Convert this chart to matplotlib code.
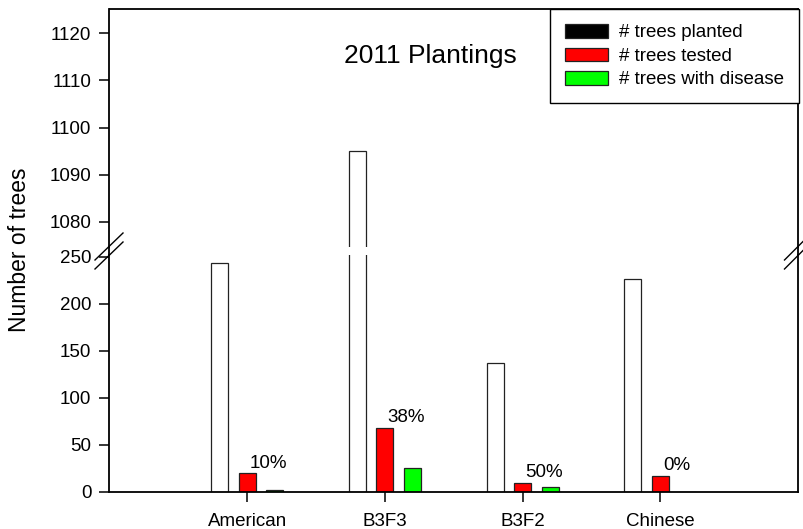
import matplotlib
matplotlib.use("Agg")
import matplotlib.pyplot as plt
from matplotlib.patches import Patch
from matplotlib.lines import Line2D
import numpy as np

plt.rcParams['font.family'] = ['Liberation Sans', 'DejaVu Sans']

categories = ["American", "B3F3", "B3F2", "Chinese"]
planted = [243, 1095, 137, 226]
tested = [20, 68, 10, 17]
disease = [2, 26, 5, 0]
pct_labels = ["10%", "38%", "50%", "0%"]
series_names = ["# trees planted", "# trees tested", "# trees with disease"]
legend_colors = ["black", "red", "#00ff00"]
bar_colors = ["white", "red", "#00ff00"]
title = "2011 Plantings"
ylabel = "Number of trees"
upper_ticks = [1080, 1090, 1100, 1110, 1120]
lower_ticks = [0, 50, 100, 150, 200, 250]

W, H = 804, 529
fig = plt.figure(figsize=(W / 100, H / 100), dpi=100)

def fx(px):
    return px / W

def fy(py):
    return 1 - py / H

left_px, right_px = 109.5, 798
ax_lo = fig.add_axes([fx(left_px), fy(492), fx(right_px - left_px), (492 - 255) / H])
ax_hi = fig.add_axes([fx(left_px), fy(247), fx(right_px - left_px), (247 - 9) / H])

x = np.arange(len(categories))
bw = 0.123
off = 0.2
series = [planted, tested, disease]
for ax in (ax_lo, ax_hi):
    for k, vals in enumerate(series):
        ax.bar(x + (k - 1) * off, vals, width=bw, color=bar_colors[k],
               edgecolor="#222222", linewidth=0.9, zorder=2)
    ax.set_xlim(-1, 4)
    for s in ax.spines.values():
        s.set_linewidth(1.3)
    ax.tick_params(axis="y", direction="out", length=7, width=1.1,
                   labelsize=13.5, pad=6)

ax_lo.set_ylim(0, 252)
ax_lo.set_yticks(lower_ticks)
ax_lo.spines["top"].set_visible(False)
ax_lo.set_xticks(x)
ax_lo.set_xticklabels(categories)
ax_lo.tick_params(axis="x", direction="out", length=7, width=1.1,
                  labelsize=13.5, pad=8)

ax_hi.set_ylim(1074.7, 1125.1)
ax_hi.set_yticks(upper_ticks)
ax_hi.spines["bottom"].set_visible(False)
ax_hi.set_xticks([])

# percentage labels
for i, lab in enumerate(pct_labels):
    ax_lo.annotate(lab, xy=(x[i] + 0.02, tested[i]), xytext=(0, 4),
                   textcoords="offset points", ha="left", va="baseline",
                   fontsize=13.5)

# continuous spines through the break gap
for px in (left_px, right_px):
    fig.add_artist(Line2D([fx(px), fx(px)], [fy(255), fy(247)],
                          color="black", linewidth=1.3))

# break marks
def brk(cx, cy, dx, dy):
    fig.add_artist(Line2D([fx(cx - dx), fx(cx + dx)], [fy(cy + dy), fy(cy - dy)],
                          color="black", linewidth=1.0))

brk(109, 246.5, 14, 13.5)
brk(109, 255.5, 14, 13.5)
brk(794, 250.5, 9.5, 9.5)
brk(794, 259.5, 9.5, 9.5)

fig.text(fx(430), fy(56), title, ha="center", va="center", fontsize=19)
fig.text(fx(20), fy(250), ylabel, ha="center", va="center", rotation=90,
         fontsize=16.5)

handles = [Patch(facecolor=c, edgecolor="#222222", linewidth=0.9)
           for c in legend_colors]
leg = fig.legend(handles, series_names, loc="upper right",
                 bbox_to_anchor=(fx(799), fy(9)), fontsize=13.5,
                 frameon=True, fancybox=False, framealpha=1,
                 edgecolor="black", handlelength=2.3, handleheight=0.74,
                 handletextpad=0.6, labelspacing=0.33, borderpad=0.8,
                 borderaxespad=0)
leg.get_frame().set_linewidth(1.0)
leg.set_zorder(10)

fig.savefig("out.png", dpi=100)
